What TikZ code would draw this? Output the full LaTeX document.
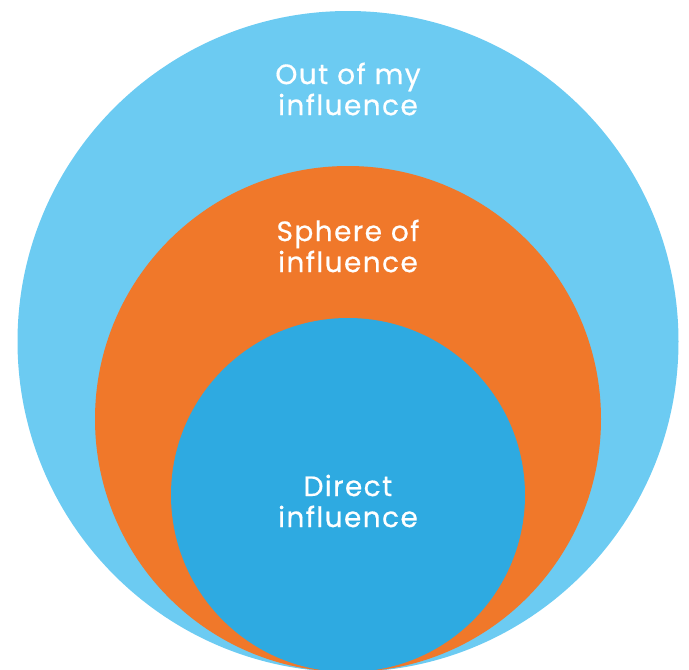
\documentclass[tikz,border=0pt]{standalone}
\usepackage{fontspec}
\newfontfamily\labelfont[LetterSpace=5,FakeBold=0.6]{Poppins}

\definecolor{outerblue}{HTML}{6CCBF2}
\definecolor{sphereorange}{HTML}{F0782A}
\definecolor{directblue}{HTML}{2EAAE1}

\begin{document}
\begin{tikzpicture}[x=1pt, y=-1pt,
  zone/.style={circle, inner sep=0pt, draw=none},
  zonelabel/.style={align=center, text=white, inner sep=0pt,
    font=\labelfont\fontsize{28}{31}\selectfont}]
\useasboundingbox (0,0) rectangle (689,670);

\node[zone, fill=outerblue, minimum size=661] (OuterZone) at (348,341.5) {};
\node[zone, fill=sphereorange, minimum size=506] (SphereZone) at (348,419) {};
\node[zone, fill=directblue, minimum size=354] (DirectZone) at (348,495) {};

\node[zonelabel] (OuterLabel) at (348,89) {Out of my\\influence};
\node[zonelabel] (SphereLabel) at (348,246) {Sphere of\\influence};
\node[zonelabel] (DirectLabel) at (348,501) {Direct\\influence};
\end{tikzpicture}
\end{document}
